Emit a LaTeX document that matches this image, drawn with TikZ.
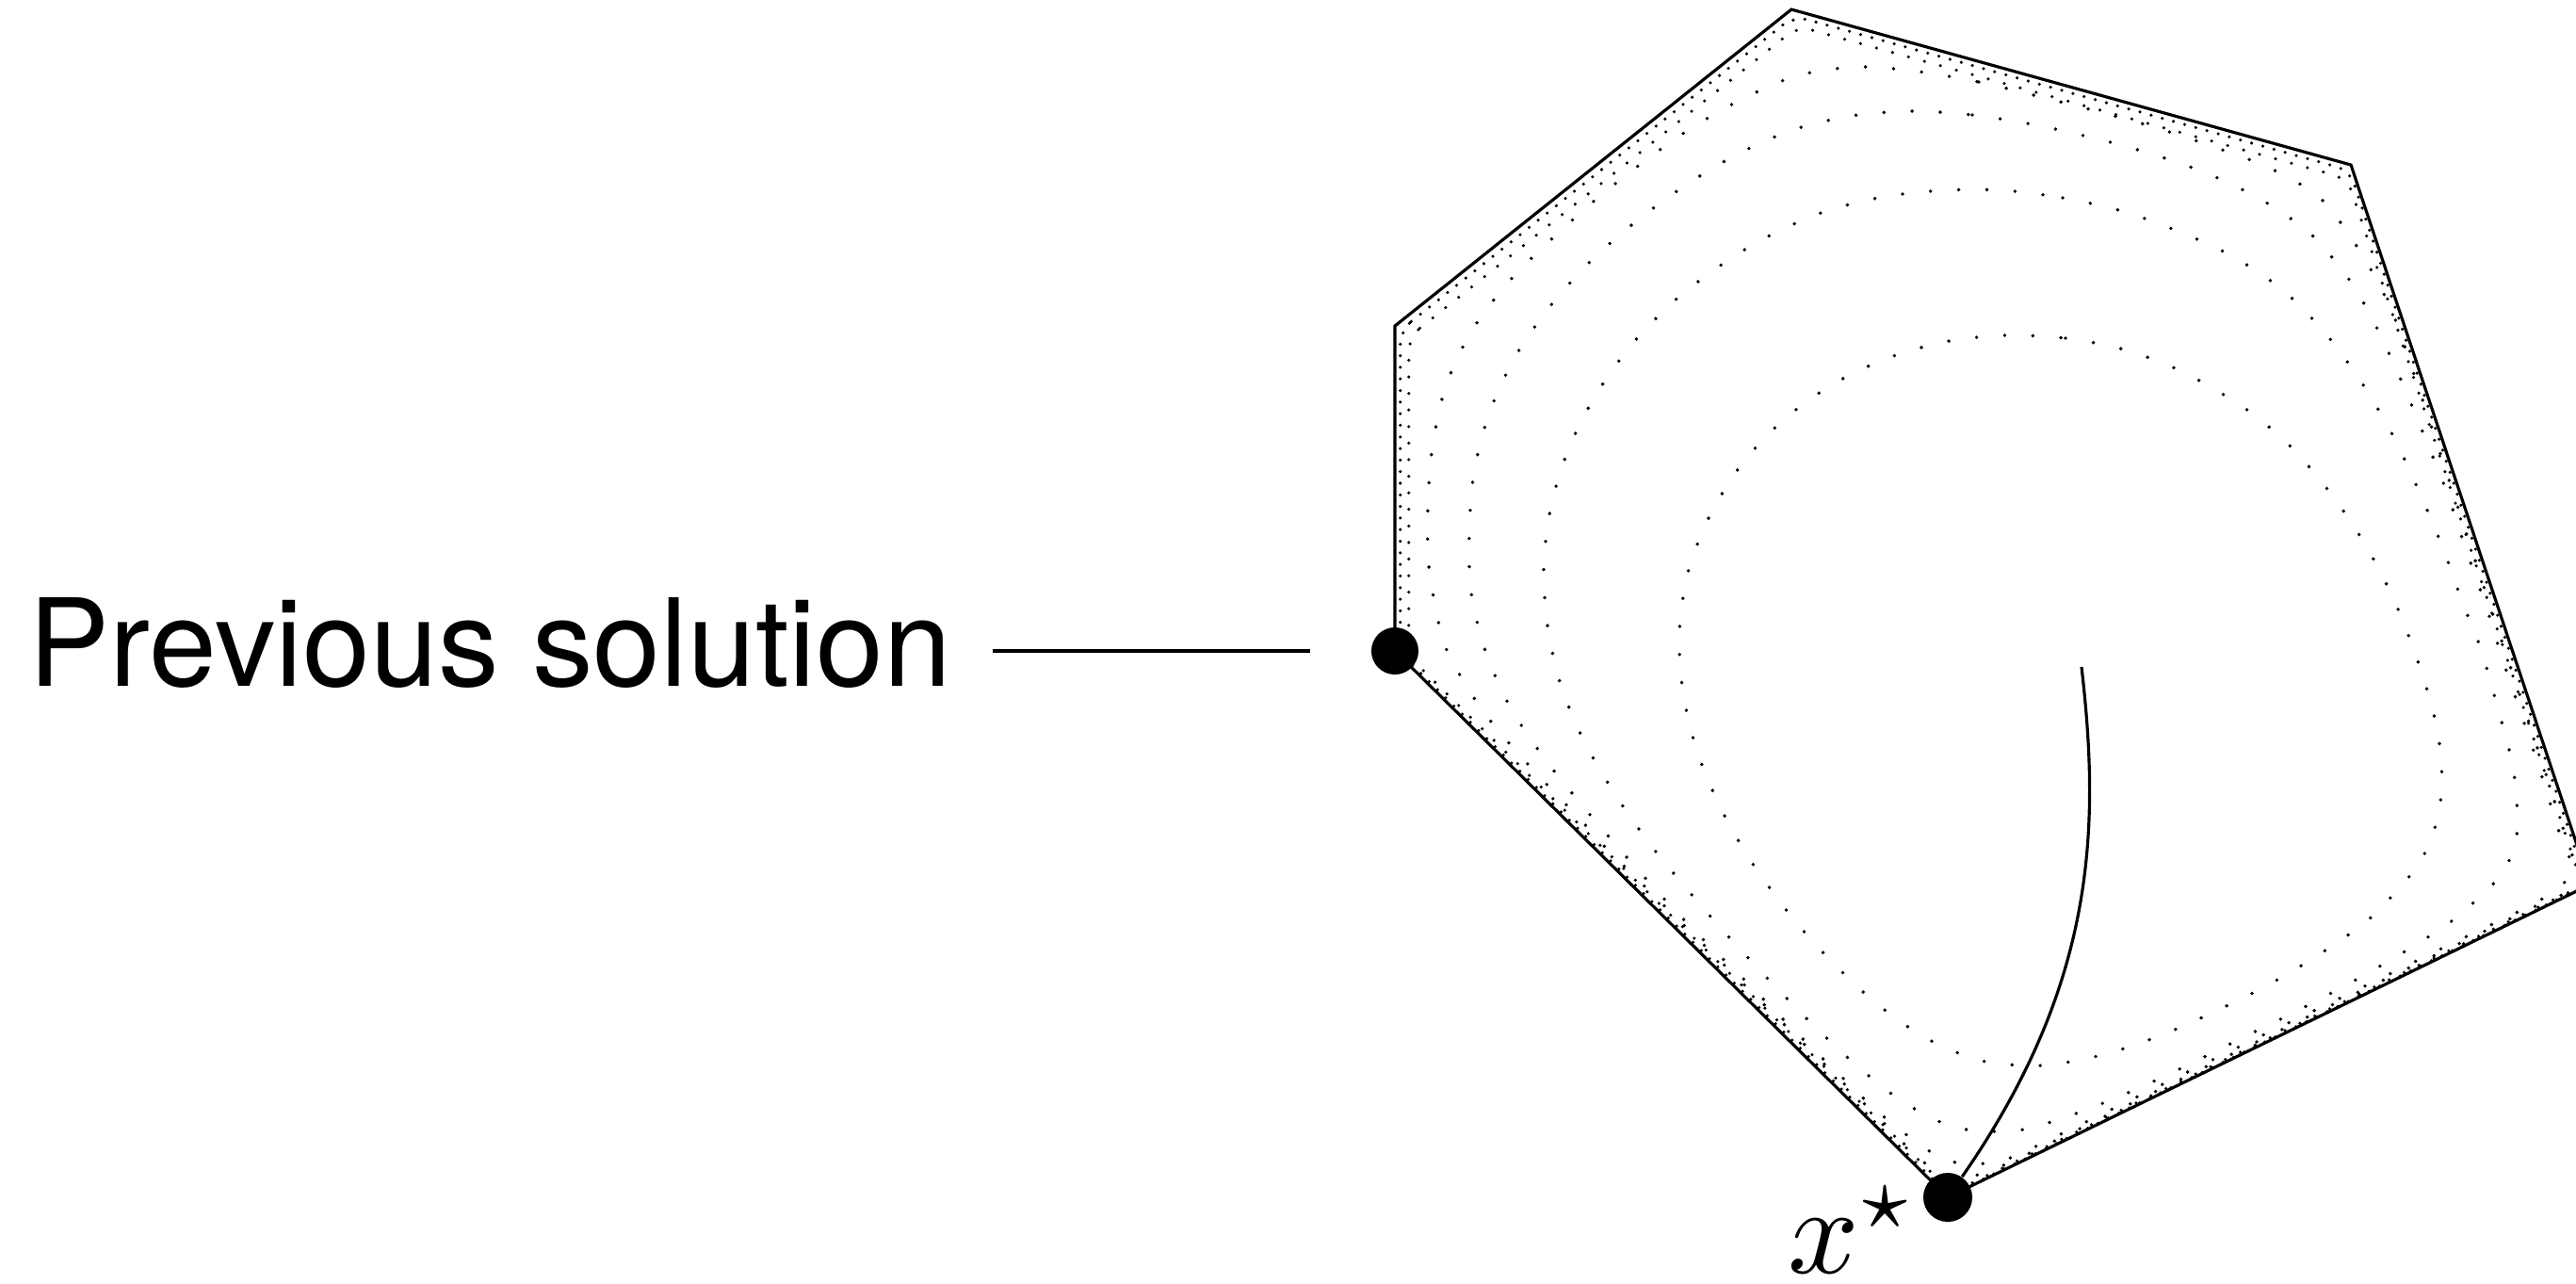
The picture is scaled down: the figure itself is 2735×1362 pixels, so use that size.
\documentclass[tikz,border=0pt]{standalone}
\usepackage{fontspec}
\newfontfamily\helvfont{TeX Gyre Heros}
\usetikzlibrary{calc}

\begin{document}
\begin{tikzpicture}[
  x=0.01cm, y=-0.01cm,
  feasible/.style={line width=0.9pt},
  barrierlevel/.style={line width=1.1pt, line cap=round, dash pattern=on 0pt off 8.5pt},
  rim/.style={line width=1pt, line cap=round, rounded corners=0.15cm},
  vertexdot/.style={circle, fill=black, inner sep=0pt, minimum size=0.5cm},
  sidelabel/.style={font=\helvfont\fontsize{36.7}{40}\selectfont, inner sep=0pt},
  mathlabel/.style={inner sep=0pt},
  pointer/.style={line width=1.3pt, shorten <=0.43cm, shorten >=0.64cm},
  centralpath/.style={line width=0.9pt}
]
  \useasboundingbox (0,0) rectangle (2735,1362);
  \clip (0,0) rectangle (2735,1362);

  % polytope vertices
  \coordinate (vA) at (1481,346);
  \coordinate (vB) at (1902,10);
  \coordinate (vC) at (2496,175);
  \coordinate (vD) at (2750,939);
  \coordinate (vE) at (2068,1271);
  \coordinate (vF) at (1481,691);
  \coordinate (acenter) at (2210,708);
  \coordinate (squeeze) at (2300,1000);

  % level sets
  \draw[barrierlevel] plot[smooth cycle] coordinates {
    (2128,356) (2193,359) (2255,371) (2316,394) (2383,433) (2432,474) (2474,523)
    (2510,576) (2540,633) (2564,693) (2583,754) (2592,807) (2590,860) (2577,900)
    (2560,928) (2516,975) (2464,1012) (2409,1045) (2351,1074) (2292,1100) (2231,1120)
    (2168,1131) (2104,1126) (2045,1102) (1992,1065) (1945,1021) (1902,973) (1859,914)
    (1827,858) (1802,798) (1787,736) (1783,672) (1792,608) (1815,548) (1849,493)
    (1892,447) (1944,409) (2002,381) (2064,363)};
  \draw[barrierlevel] plot[smooth cycle] coordinates {
    (2126,202) (2190,210) (2253,224) (2314,246) (2372,273) (2425,309) (2470,355)
    (2508,407) (2541,463) (2568,521) (2593,580) (2615,641) (2634,689) (2652,752)
    (2668,814) (2673,874) (2667,906) (2651,934) (2604,977) (2550,1012) (2494,1044)
    (2437,1074) (2380,1102) (2322,1131) (2264,1158) (2204,1182) (2142,1200) (2077,1197)
    (2021,1170) (1970,1130) (1923,1086) (1878,1040) (1834,993) (1792,945) (1751,895)
    (1714,842) (1682,787) (1657,727) (1643,664) (1639,600) (1647,536) (1666,475)
    (1695,418) (1733,365) (1778,319) (1829,280) (1877,251) (1936,225) (1999,209) (2064,202)};
  \draw[barrierlevel] plot[smooth cycle] coordinates {
    (2030,118) (2094,122) (2158,132) (2221,146) (2283,163) (2343,184) (2401,212)
    (2454,249) (2495,298) (2522,345) (2549,403) (2574,463) (2598,523) (2618,583)
    (2640,645) (2657,700) (2691,800) (2716,880) (2730,925) (2696,956) (2596,1005)
    (2496,1054) (2396,1102) (2296,1151) (2196,1200) (2126,1232) (2077,1234) (2047,1221)
    (1996,1182) (1946,1134) (1900,1089) (1855,1043) (1809,998) (1764,951) (1721,903)
    (1679,854) (1639,804) (1603,750) (1577,691) (1562,629) (1560,565) (1565,501)
    (1581,439) (1608,380) (1645,326) (1689,277) (1737,235) (1789,197) (1844,164)
    (1903,138) (1966,123)};
  \draw[barrierlevel] plot[smooth cycle] coordinates {
    (2037,76) (2101,87) (2163,102) (2226,118) (2287,135) (2348,155) (2409,178)
    (2463,210) (2502,261) (2530,310) (2547,350) (2597,500) (2646,650) (2696,800)
    (2728,900) (2742,938) (2698,959) (2598,1008) (2498,1056) (2398,1105) (2298,1154)
    (2198,1203) (2120,1240) (2078,1250) (2040,1232) (2006,1198) (1906,1099) (1806,1000)
    (1706,901) (1679,871) (1656,847) (1634,824) (1612,800) (1591,776) (1571,750)
    (1554,723) (1538,695) (1528,664) (1517,601) (1516,537) (1521,473) (1535,410)
    (1562,352) (1601,300) (1646,255) (1694,212) (1742,174) (1794,137) (1850,105)
    (1909,80) (1973,71)};
  \foreach \lam/\gap in {0.982/5pt, 0.993/3.5pt}
    \draw[rim, dash pattern=on 0pt off \gap] ($(squeeze)!\lam!(vA)$) -- ($(squeeze)!\lam!(vB)$)
      -- ($(squeeze)!\lam!(vC)$) -- ($(squeeze)!\lam!(vD)$) -- ($(squeeze)!\lam!(vE)$)
      -- ($(squeeze)!\lam!(vF)$) -- cycle;

  % feasible set
  \draw[feasible] (vA) -- (vB) -- (vC) -- (vD) -- (vE) -- (vF) -- cycle;

  \node[vertexdot] (prevsol) at (vF) {};
  \node[vertexdot, minimum size=0.52cm] (xstar) at (vE) {};
  \node[sidelabel, anchor=base west] (prevlabel) at (30,728) {Previous solution};
  \node[mathlabel, anchor=base west] (xlabel) at (1898,1351) {\scalebox{3.76}{$x^\star$}};

  \draw[centralpath] (acenter) .. controls (2230,880) and (2225,1045) .. (xstar);
  \draw[pointer] (prevlabel.east |- prevsol) -- (prevsol);
\end{tikzpicture}
\end{document}
